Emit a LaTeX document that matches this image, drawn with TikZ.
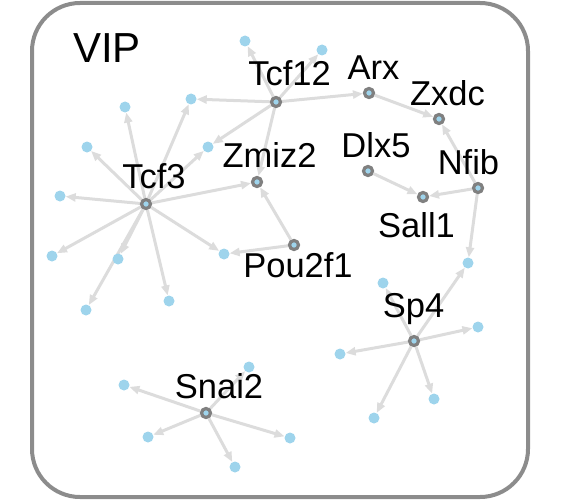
\documentclass[tikz,border=0pt]{standalone}
\usepackage{fontspec}
\setmainfont{Liberation Sans}
\usetikzlibrary{arrows.meta, backgrounds}
\definecolor{leafblue}{RGB}{158,212,236}
\definecolor{ringgrey}{RGB}{128,128,128}
\definecolor{linkgrey}{RGB}{220,220,220}
\definecolor{framegrey}{RGB}{140,140,140}
\begin{document}
\begin{tikzpicture}[x = 1pt, y = -1pt,
    leaf/.style = {circle, fill = leafblue, inner sep = 0, minimum size = 11pt},
    hub/.style = {circle, fill = leafblue, draw = ringgrey, line width = 3.2pt,
      inner sep = 0, minimum size = 9pt},
    gene/.style = {anchor = base, inner sep = 0, font = \fontsize{34.5}{40}\selectfont},
    link/.style = {-{Triangle[length = 10pt, width = 8pt]}, linkgrey, line width = 3pt}]
    \useasboundingbox (0,0) rectangle (564,500);
    \draw [framegrey, line width = 4pt, rounded corners = 48pt] (32,3) rectangle (528,497);
    \node [gene, font = \fontsize{42}{48}\selectfont] (vip) at (107,63) {VIP};
    % hubs
    \node [hub] (tcf12) at (276,102) {};
    \node [hub] (arx) at (369,93) {};
    \node [hub] (zxdc) at (439,119) {};
    \node [hub] (nfib) at (478,188) {};
    \node [hub] (dlx5) at (368,171) {};
    \node [hub] (sall1) at (423,197) {};
    \node [hub] (zmiz2) at (257,182) {};
    \node [hub] (tcf3) at (146,204) {};
    \node [hub] (pou2f1) at (294,245) {};
    \node [hub] (sp4) at (414,341) {};
    \node [hub] (snai2) at (206,413) {};
    % leaves
    \node [leaf] (ta) at (245,41) {};
    \node [leaf] (tb) at (322,50) {};
    \node [leaf] (s1) at (191,99) {};
    \node [leaf] (s2) at (208,147) {};
    \node [leaf] (s3) at (224,254) {};
    \node [leaf] (s4) at (468,263) {};
    \node [leaf] (c1) at (125,107) {};
    \node [leaf] (c2) at (87,147) {};
    \node [leaf] (c3) at (60,196) {};
    \node [leaf] (c4) at (52,256) {};
    \node [leaf] (c5) at (118,259) {};
    \node [leaf] (c6) at (86,310) {};
    \node [leaf] (c7) at (169,301) {};
    \node [leaf] (p1) at (383,283) {};
    \node [leaf] (p2) at (478,327) {};
    \node [leaf] (p3) at (340,354) {};
    \node [leaf] (p4) at (434,399) {};
    \node [leaf] (p5) at (374,418) {};
    \node [leaf] (n1) at (124,385) {};
    \node [leaf] (n2) at (249,367) {};
    \node [leaf] (n3) at (148,437) {};
    \node [leaf] (n4) at (290,438) {};
    \node [leaf] (n5) at (235,467) {};
    % names
    \node [gene] (tcf12-l) at (289.5,86) {Tcf12};
    \node [gene] (arx-l) at (373.5,80) {Arx};
    \node [gene] (zxdc-l) at (447.5,106) {Zxdc};
    \node [gene] (zmiz2-l) at (269.5,167) {Zmiz2};
    \node [gene] (dlx5-l) at (376,157) {Dlx5};
    \node [gene] (nfib-l) at (468.5,174) {Nfib};
    \node [gene] (tcf3-l) at (154,188) {Tcf3};
    \node [gene] (sall1-l) at (416.5,237) {Sall1};
    \node [gene] (pou2f1-l) at (298,277) {Pou2f1};
    \node [gene] (sp4-l) at (413.5,317) {Sp4};
    \node [gene] (snai2-l) at (219,398) {Snai2};
    \begin{scope}[on background layer]
      \path (tcf12) edge [link] (ta) edge [link] (tb) edge [link] (s1)
        edge [link] (s2) edge [link] (arx) edge [link] (zmiz2);
      \path (tcf3) edge [link] (c1) edge [link] (c2) edge [link] (c3)
        edge [link] (c4) edge [link] (c5) edge [link] (c6) edge [link] (c7)
        edge [link] (s1) edge [link] (s2) edge [link] (s3) edge [link] (zmiz2);
      \path (pou2f1) edge [link] (s3) edge [link] (zmiz2);
      \path (arx) edge [link] (zxdc);
      \path (nfib) edge [link] (zxdc) edge [link] (sall1) edge [link] (s4);
      \path (dlx5) edge [link] (sall1);
      \path (sp4) edge [link] (s4) edge [link] (p1) edge [link] (p2)
        edge [link] (p3) edge [link] (p4) edge [link] (p5);
      \path (snai2) edge [link] (n1) edge [link] (n2) edge [link] (n3)
        edge [link] (n4) edge [link] (n5);
    \end{scope}
  \end{tikzpicture}
\end{document}
